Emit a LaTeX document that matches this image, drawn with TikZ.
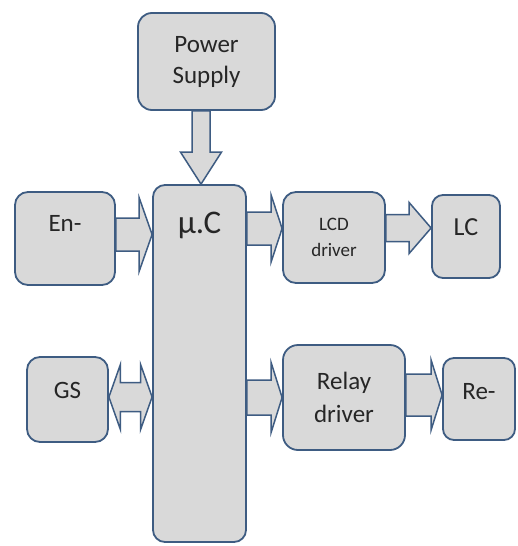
\documentclass[tikz,border=0pt]{standalone}
\usepackage{fontspec}
\setmainfont{Carlito}
\usetikzlibrary{calc}

\definecolor{boxfill}{RGB}{217,217,217}
\definecolor{boxline}{RGB}{62,92,130}

\tikzset{
  box/.style={draw=boxline, line width=1.8pt, fill=boxfill, rounded corners=13pt,
    text=black!85, align=center, inner sep=0pt, font=\fontsize{25}{31}\selectfont},
  blockarrow/.style={draw=boxline, line width=1.5pt, fill=boxfill, line join=miter},
  lift/.style={text depth=#1},
}

% block arrow pointing right: from, to, row, shaft half, head half, head length
\newcommand{\blockright}[6]{%
  \path (0,#3) coordinate (row) (#1.east |- row) coordinate (tail) (#2.west |- row) coordinate (tip);
  \draw[blockarrow] ([shift={(0,-#4)}]tail) -- ([shift={(-#6,-#4)}]tip) -- ([shift={(-#6,-#5)}]tip)
    -- (tip) -- ([shift={(-#6,#5)}]tip) -- ([shift={(-#6,#4)}]tip) -- ([shift={(0,#4)}]tail) -- cycle;
}
% block arrow with two heads
\newcommand{\blockboth}[6]{%
  \path (0,#3) coordinate (row) (#1.east |- row) coordinate (tipa) (#2.west |- row) coordinate (tipb);
  \draw[blockarrow] (tipa) -- ([shift={(#6,-#5)}]tipa) -- ([shift={(#6,-#4)}]tipa)
    -- ([shift={(-#6,-#4)}]tipb) -- ([shift={(-#6,-#5)}]tipb) -- (tipb)
    -- ([shift={(-#6,#5)}]tipb) -- ([shift={(-#6,#4)}]tipb) -- ([shift={(#6,#4)}]tipa)
    -- ([shift={(#6,#5)}]tipa) -- cycle;
}
% block arrow pointing down: from, to, column, shaft half, head half, head length
\newcommand{\blockdown}[6]{%
  \path (#3,0) coordinate (col) (#1.south -| col) coordinate (tail) (#2.north -| col) coordinate (tip);
  \draw[blockarrow] ([shift={(-#4,0)}]tail) -- ([shift={(-#4,-#6)}]tip) -- ([shift={(-#5,-#6)}]tip)
    -- (tip) -- ([shift={(#5,-#6)}]tip) -- ([shift={(#4,-#6)}]tip) -- ([shift={(#4,0)}]tail) -- cycle;
}

\begin{document}
\begin{tikzpicture}[x=1pt,y=-1pt]

\useasboundingbox (0,0) rectangle (517,546);
\fill[white] (0,0) rectangle (517,546);

% blocks
\node[box, minimum width=137, minimum height=97, rounded corners=14pt] (power) at (206.5,61.5) {Power\\Supply};
\node[box, minimum width=93, minimum height=357, rounded corners=12pt, lift=281pt,
  font=\fontsize{33}{38}\selectfont] (uc) at (199.5,363.5) {µ.C};
\node[box, minimum width=100, minimum height=93, lift=31pt] (enc) at (65,238.5) {En-};
\node[box, minimum width=102, minimum height=91, font=\fontsize{19}{26}\selectfont] (lcddrv) at (334,237.5) {LCD\\driver};
\node[box, minimum width=68, minimum height=83, rounded corners=11pt, lift=19pt,
  font=\fontsize{26}{31}\selectfont] (lcd) at (466,236.5) {LC};
\node[box, minimum width=81, minimum height=85, lift=19pt] (gsm) at (67.5,399.5) {GS};
\node[box, minimum width=122, minimum height=105, rounded corners=15pt, font=\fontsize{25}{33}\selectfont] (reldrv) at (344,397.5) {Relay\\driver};
\node[box, minimum width=72, minimum height=82, rounded corners=11pt, lift=16pt] (relay) at (479,399) {Re-};

% block arrows
\blockdown{power}{uc}{201}{9}{20.5}{32}
\blockright{enc}{uc}{234.5}{16.5}{37}{13}
\blockright{uc}{lcddrv}{228.5}{16.5}{33.5}{11}
\blockright{lcddrv}{lcd}{228}{13.5}{25.5}{22}
\blockboth{gsm}{uc}{397}{14.5}{32.5}{11.5}
\blockright{uc}{reldrv}{397.5}{17.5}{35}{11}
\blockright{reldrv}{relay}{395}{21}{35}{11}

\end{tikzpicture}
\end{document}
